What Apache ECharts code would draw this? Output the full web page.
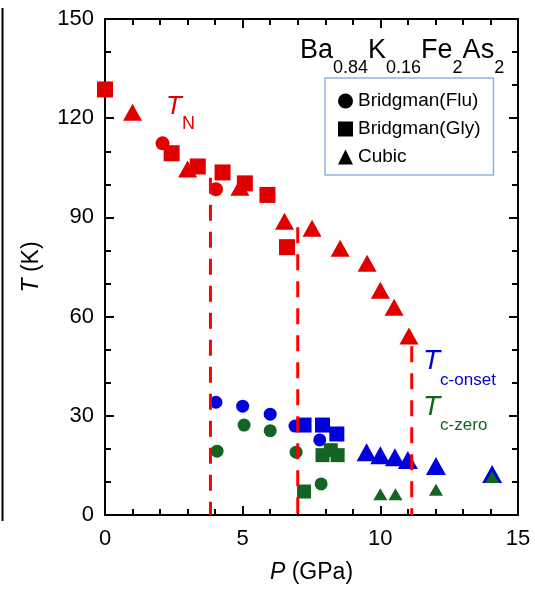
<!DOCTYPE html>
<html><head><meta charset="utf-8">
<script src="https://cdn.jsdelivr.net/npm/echarts@6/dist/echarts.min.js"></script>
<style>html,body{margin:0;padding:0;background:#fff}#c{width:535px;height:589px}</style>
</head><body><div id="c"></div>
<script>
// ---- data ----
const xTickLabels = [0, 5, 10, 15];
const yTickLabels = [0, 30, 60, 90, 120, 150];
// T_N (red)
const tnFlu = [[2.09,112.4],[4.03,98.5]];
const tnGly = [[0,128.7],[2.42,109.4],[3.37,105.4],[4.27,103.6],[5.08,100.3],[5.9,96.8],[6.61,81.0]];
const tnCubic = [[1.0,121.8],[3.0,104.6],[4.9,99.1],[6.52,88.8],[7.52,86.7],[8.54,80.7],[9.52,76.1],[10.0,68.0],[10.5,62.8],[11.04,54.1]];
// Tc-onset (blue)
const onFlu = [[4.03,34.1],[5.0,32.9],[6.0,30.5],[6.9,26.9],[7.8,22.7]];
const onGly = [[7.23,27.2],[7.9,27.2],[8.42,24.5]];
const onCubic = [[9.5,19.0],[10.0,18.1],[10.53,17.5],[11.0,16.6],[12.02,14.8],[14.06,12.4]];
// Tc-zero (green)
const zeFlu = [[4.07,19.3],[5.05,27.2],[6.0,25.5],[6.94,19.0],[7.85,9.4]];
const zeGly = [[7.23,7.1],[7.9,18.1],[8.2,19.6],[8.45,18.1]];
const zeCubic = [[10.0,6.3],[10.55,6.3],[12.02,7.6],[14.06,11.5]];
// phase boundaries: [P, top T]
const boundaries = [[3.83,102],[7.0,87],[11.14,51]];

const FONT = 'Liberation Sans, Arial, sans-serif';
const RED = '#e00000', BLUE = '#0000dd', GREEN = '#126420';
const NAMES = ['Bridgman(Flu)', 'Bridgman(Gly)', 'Cubic'];

function sc(nameIdx, data, symbol, size, color, z) {
  return {type:'scatter', name: NAMES[nameIdx], data: data, symbol: symbol, symbolSize: size,
    itemStyle:{color: color, opacity:1}, z: z, silent:true, animation:false};
}
const series = [
  sc(0, tnFlu, 'circle', 14, RED, 2),
  sc(1, tnGly, 'rect', 16, RED, 3),
  sc(2, tnCubic, 'triangle', [19,17], RED, 3),
  sc(0, onFlu, 'circle', 13, BLUE, 4),
  sc(1, onGly, 'rect', 15, BLUE, 4),
  sc(2, onCubic, 'triangle', [20,18], BLUE, 4),
  sc(0, zeFlu, 'circle', 13, GREEN, 5),
  sc(1, zeGly, 'rect', 14, GREEN, 5),
  sc(2, zeCubic, 'triangle', [14,12], GREEN, 6)
];
boundaries.forEach(b => {
  series.push({type:'line', data:[[b[0], b[1]], [b[0], 0]], symbol:'none', silent:true, animation:false,
    lineStyle:{color:'#ff0000', width:3, type:[16,11]}, z: 10});
});

const axisCommon = {
  type:'value', splitLine:{show:false},
  axisLine:{show:true, onZero:false, lineStyle:{color:'#000', width:2}},
  axisTick:{show:true, inside:true, length:9, lineStyle:{color:'#000', width:2}},
  minorTick:{show:true, length:6, lineStyle:{color:'#000', width:2}}
};

function rt(size, color, extra) {
  return Object.assign({fontSize:size, color:color, fontFamily:FONT, fontWeight:'normal'}, extra || {});
}

const option = {
  backgroundColor:'#fff',
  animation:false,
  grid:{left:105, right:17, top:19, bottom:73},
  xAxis:[
    Object.assign({}, axisCommon, {position:'bottom', min:0, max:15, interval:5,
      minorTick:Object.assign({}, axisCommon.minorTick, {splitNumber:5}),
      axisLabel:{fontSize:22, color:'#000', fontFamily:FONT, margin:13,
        formatter: v => xTickLabels.includes(v) ? String(v) : ''},
      name:'{i|P} (GPa)', nameLocation:'middle', nameGap:46,
      nameTextStyle:{fontSize:23, color:'#000', fontFamily:FONT,
        rich:{i:{fontStyle:'italic', fontSize:23, color:'#000', fontFamily:FONT}}}}),
    Object.assign({}, axisCommon, {position:'top', min:0, max:15, interval:5,
      minorTick:Object.assign({}, axisCommon.minorTick, {splitNumber:5}),
      axisLabel:{show:false}})
  ],
  yAxis:[
    Object.assign({}, axisCommon, {position:'left', min:0, max:150, interval:30,
      minorTick:Object.assign({}, axisCommon.minorTick, {splitNumber:3}),
      axisLabel:{fontSize:22, color:'#000', fontFamily:FONT, margin:11,
        formatter: v => yTickLabels.includes(v) ? String(v) : ''},
      name:'{i|T} (K)', nameLocation:'middle', nameGap:62,
      nameTextStyle:{fontSize:23, color:'#000', fontFamily:FONT,
        rich:{i:{fontStyle:'italic', fontSize:23, color:'#000', fontFamily:FONT}}}}),
    Object.assign({}, axisCommon, {position:'right', min:0, max:150, interval:30,
      minorTick:Object.assign({}, axisCommon.minorTick, {splitNumber:3}),
      axisLabel:{show:false}})
  ],
  legend:{
    orient:'vertical', left:325, top:78,
    borderColor:'#8db3e2', borderWidth:1.5, borderRadius:0,
    padding:[12, 13, 7, 13], itemGap:6, itemWidth:15, itemHeight:15,
    textStyle:{fontSize:19, color:'#000', fontFamily:FONT, lineHeight:22},
    itemStyle:{color:'#000'},
    data: NAMES.map((n, i) => ({name:n, icon:['circle','rect','triangle'][i], itemStyle:{color:'#000'}})),
    selectedMode:false
  },
  title:[
    {text:'{m|Ba}{s|0.84}{m|K}{s|0.16}{m|Fe}{s|2}{m|As}{s|2}', left:300, top:37, padding:0,
      textStyle:{fontWeight:'normal', rich:{
        m:rt(27, '#000', {lineHeight:29, verticalAlign:'top'}),
        s:rt(18, '#000', {lineHeight:18, padding:[22,0,0,0], verticalAlign:'top'})}}},
    {text:'{t|T}{s|N}', left:166, top:94, padding:0,
      textStyle:{fontWeight:'normal', rich:{
        t:rt(26, RED, {lineHeight:28, verticalAlign:'top', fontStyle:'italic'}),
        s:rt(18, RED, {lineHeight:18, padding:[21,0,0,0], verticalAlign:'top'})}}},
    {text:'{t|T}{s|c-onset}', left:423, top:347, padding:0,
      textStyle:{fontWeight:'normal', rich:{
        t:rt(28, BLUE, {lineHeight:30, verticalAlign:'top', fontStyle:'italic'}),
        s:rt(17, BLUE, {lineHeight:17, padding:[25,0,0,0], verticalAlign:'top'})}}},
    {text:'{t|T}{s|c-zero}', left:423, top:393, padding:0,
      textStyle:{fontWeight:'normal', rich:{
        t:rt(28, GREEN, {lineHeight:30, verticalAlign:'top', fontStyle:'italic'}),
        s:rt(17, GREEN, {lineHeight:17, padding:[24,0,0,0], verticalAlign:'top'})}}}
  ],
  graphic:[
    {type:'line', shape:{x1:2.5, y1:8, x2:2.5, y2:521}, style:{stroke:'#000', lineWidth:2}, silent:true}
  ],
  series: series
};
const chart = echarts.init(document.getElementById('c'), null, {renderer:'canvas'});
chart.setOption(option);
</script>
</body></html>
